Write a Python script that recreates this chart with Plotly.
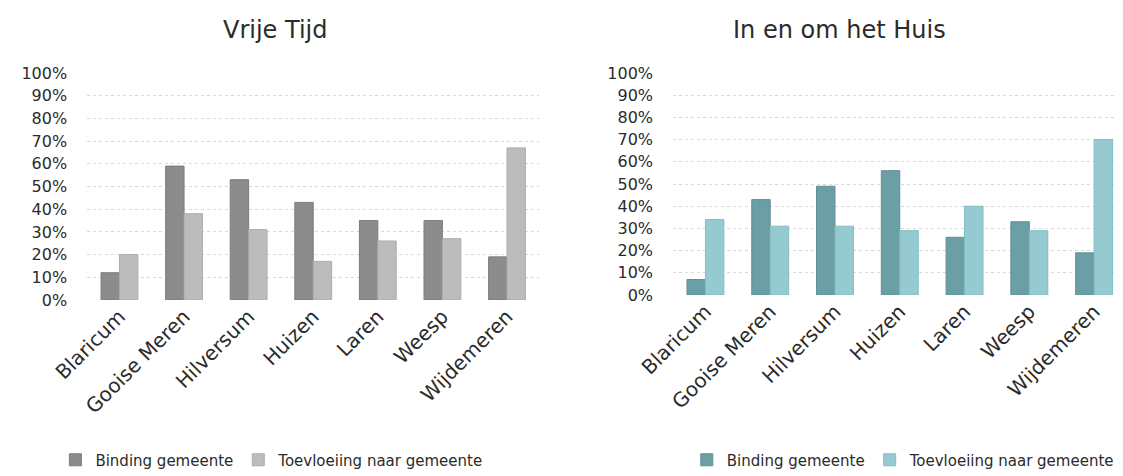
import plotly.graph_objects as go
from plotly.subplots import make_subplots

categories = ["Blaricum", "Gooise Meren", "Hilversum", "Huizen", "Laren", "Weesp", "Wijdemeren"]
vt_binding = [12, 59, 53, 43, 35, 35, 19]
vt_toevloeiing = [20, 38, 31, 17, 26, 27, 67]
huis_binding = [7, 43, 49, 56, 26, 33, 19]
huis_toevloeiing = [34, 31, 31, 29, 40, 29, 70]
titles = ["Vrije Tijd", "In en om het Huis"]
series_names = ["Binding gemeente", "Toevloeiing naar gemeente"]
tick_vals = [i / 10 for i in range(11)]
tick_text = [f"{i*10}%" for i in range(11)]

FONT = "DejaVu Sans"
TXT = "#2b2b2b"
fig = make_subplots(rows=1, cols=2)

fig.add_trace(go.Bar(x=categories, y=[v / 100 for v in vt_binding], name=series_names[0],
                     marker=dict(color="#8c8c8c", line=dict(color="#7c7c7c", width=1)),
                     legend="legend"), row=1, col=1)
fig.add_trace(go.Bar(x=categories, y=[v / 100 for v in vt_toevloeiing], name=series_names[1],
                     marker=dict(color="#bcbcbc", line=dict(color="#acacac", width=1)),
                     legend="legend"), row=1, col=1)
fig.add_trace(go.Bar(x=categories, y=[v / 100 for v in huis_binding], name=series_names[0],
                     marker=dict(color="#6b9ea5", line=dict(color="#5e9097", width=1)),
                     legend="legend2"), row=1, col=2)
fig.add_trace(go.Bar(x=categories, y=[v / 100 for v in huis_toevloeiing], name=series_names[1],
                     marker=dict(color="#94cad0", line=dict(color="#85bdc4", width=1)),
                     legend="legend2"), row=1, col=2)

axis_y = dict(range=[0, 1.0], tickvals=tick_vals, ticktext=tick_text, automargin=False,
              showgrid=True, gridcolor="#d9d9d9", griddash="dot", gridwidth=1,
              zeroline=False, showline=False, ticks="", ticklen=0, ticklabelstandoff=19,
              tickfont=dict(family=FONT, size=16, color=TXT))
axis_x = dict(tickangle=-45, showline=False, ticks="", showgrid=False, automargin=False,
              tickfont=dict(family=FONT, size=20, color=TXT))

fig.update_layout(
    width=1123, height=476,
    margin=dict(l=0, r=0, t=0, b=0, autoexpand=False),
    paper_bgcolor="white", plot_bgcolor="white",
    barmode="group", bargap=0.43, bargroupgap=0.0,
    xaxis=dict(domain=[0.0705, 0.4731], **axis_x),
    xaxis2=dict(domain=[0.5922, 0.996], **axis_x),
    yaxis=dict(domain=[0.3866, 0.8634], **axis_y),
    yaxis2=dict(domain=[0.397, 0.8634], **axis_y),
    legend=dict(orientation="h", x=0.235, y=0.085, xanchor="center", yanchor="top",
                font=dict(family=FONT, size=15, color=TXT), itemwidth=30),
    legend2=dict(orientation="h", x=0.99, y=0.085, xanchor="right", yanchor="top",
                 font=dict(family=FONT, size=15, color=TXT), itemwidth=30),
    annotations=[
        dict(text=titles[0], x=0.238, y=0.954, xref="paper", yref="paper", showarrow=False,
             xanchor="center", yanchor="middle",
             font=dict(family=FONT, size=24, color=TXT)),
        dict(text=titles[1], x=0.740, y=0.954, xref="paper", yref="paper", showarrow=False,
             xanchor="center", yanchor="middle",
             font=dict(family=FONT, size=24, color=TXT)),
    ],
)
fig.write_html("out.html")
